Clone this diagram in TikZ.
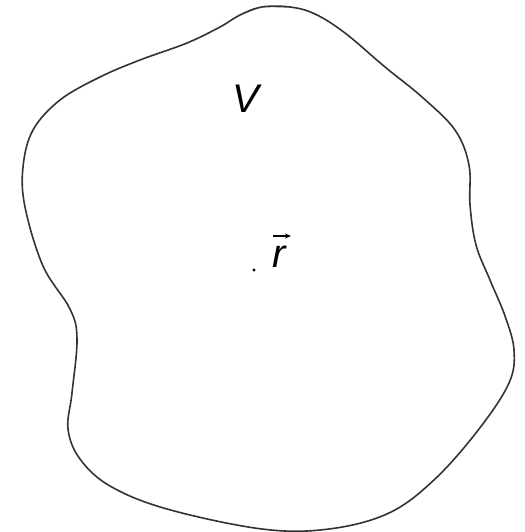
\documentclass[tikz,border=0pt]{standalone}
\usepackage{fontspec}
\setsansfont{Liberation Sans}
\usetikzlibrary{arrows.meta}
\begin{document}
\begin{tikzpicture}[x=1pt,y=-1pt,
  outline/.style={line width=1.6pt, draw=black!80, line cap=round, line join=round},
  lbl/.style={font=\sffamily\itshape\fontsize{40}{48}\selectfont, inner sep=0pt, text=black}]
\useasboundingbox (0,0) rectangle (524,532);
\draw[outline] plot[smooth, tension=0.6] coordinates {
 (240,15) (262,7) (290,7) (315,14) (345,33) (385,67) (422,97) (455,130) (469,165) (470,205)
 (476,245) (490,280) (505,316) (514,350) (509,383) (479,429) (435,479)
 (389,513) (329,529) (262,529) (167,509) (110,486) (80,459) (68,429)
 (72,393) (77,339) (70,309) (43,266) (25,207) (23,167) (33,130) (60,100)
 (100,77) (140,60) (187,43) (220,27) (240,15) (262,7) (290,7)};
\node[lbl] (V) at (246,99) {V};
\node[lbl, anchor=base] (r) at (279,267) {r};
\node[circle, fill=black, inner sep=0pt, minimum size=3.2pt] (p) at (254,270) {};
\coordinate (a1) at (273,236);
\coordinate (a2) at (291,236);
\draw[black, line width=1.1pt, -{Stealth[length=6pt,width=5pt]}] (a1) -- (a2);
\end{tikzpicture}
\end{document}
